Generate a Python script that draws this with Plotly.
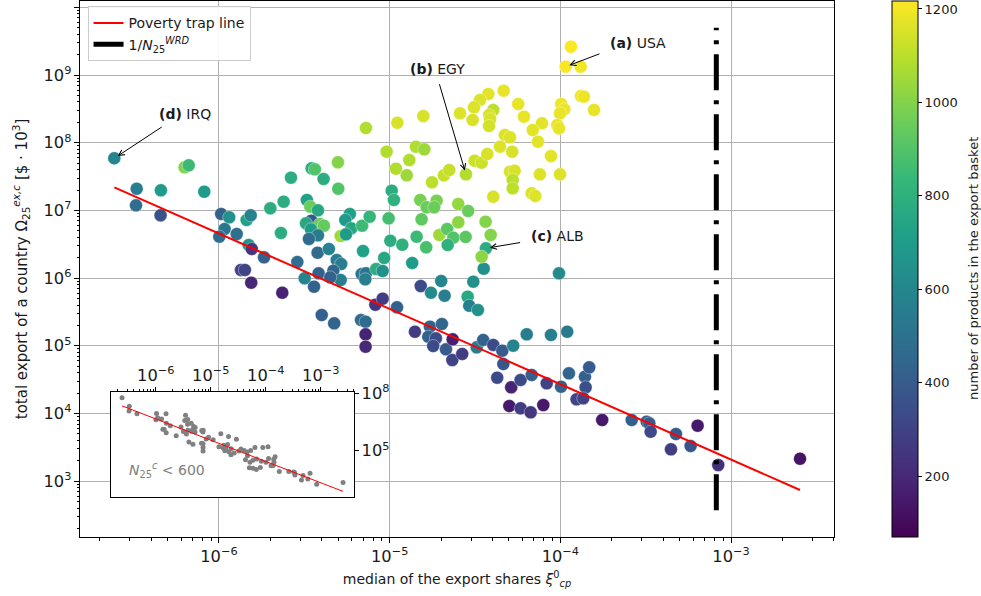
import numpy as np
import plotly.graph_objects as go

# ---------------- data (log10 of values) ----------------
countries = ["IRQ", "USA", "EGY", "ALB"]  # first four entries are the labelled countries

log10_xi = [
    -6.613, -3.969, -4.553, -4.436,
    -6.482, -6.340, -6.086, -6.486, -6.342, -6.201, -6.177, -5.987, -5.940, -5.838,
    -5.814, -5.967, -5.998, -5.896, -5.826, -5.808, -5.871, -5.848, -5.811,
    -5.303, -5.457, -5.438, -5.578, -5.387, -5.301, -5.699, -5.621, -5.485, -5.465,
    -5.420, -5.459, -5.490, -5.408, -5.385, -5.461, -5.420, -5.473, -5.637, -5.233,
    -5.260, -5.225, -5.161, -5.117, -5.287, -5.256, -5.422, -5.356, -5.541, -5.736,
    -5.310, -5.284, -5.156, -5.032, -5.006, -4.996, -4.926, -4.868, -4.988, -4.975,
    -5.629, -5.498, -5.443, -5.416, -5.330, -5.287, -5.348, -5.164, -5.139, -5.143,
    -5.079, -5.041, -5.084, -5.041, -4.957, -5.398, -5.168, -4.818, -4.758, -4.698,
    -4.678, -4.543, -4.534, -4.483, -4.510, -4.449, -4.461,
    -4.842, -4.786, -4.709, -4.663, -4.627, -4.660, -4.555, -4.813, -4.598, -4.438,
    -4.821, -4.783, -4.725, -4.739, -4.598, -4.540, -4.963, -4.900, -4.885, -4.752,
    -4.682, -4.651, -5.018, -4.502, -4.461,
    -5.325, -5.141, -5.141, -5.141, -4.852, -4.764, -4.774, -4.729, -4.694, -4.745,
    -4.670, -4.631, -4.633, -4.575, -4.490, -4.452, -4.393, -4.340, -4.276, -4.197,
    -4.055, -3.960, -4.334, -4.370, -4.288, -4.233, -4.168, -4.080, -3.996, -3.950,
    -3.856, -3.831, -3.852, -3.905, -3.866, -4.299, -4.233, -4.174, -4.100, -3.755,
    -3.582, -3.494, -3.479, -3.471, -3.323, -3.352, -3.237, -3.196, -3.075, -2.596,
    -4.008, -4.408,
    -3.938, -3.881, -3.879, -3.862, -3.803, -3.995, -3.977, -4.002, -4.018, -4.008,
    -4.055, -4.002, -4.120, -4.168, -4.147, -4.131, -4.108, -4.162, -4.213, -4.247,
    -4.332, -4.422, -4.471, -4.506, -4.588, -4.514, -4.393, -4.417, -4.412, -4.418,
    -4.325, -4.295, -4.354, -4.282, -4.428, -4.295, -4.268, -4.279, -4.279, -4.393,
    -4.803, -4.955, -5.139, -4.846, -4.797,
]

log10_export = [
    7.770, 9.123, 7.533, 6.440,
    7.320, 7.297, 7.276, 7.075, 6.928, 7.637, 7.666, 6.947, 6.898, 6.858,
    6.928, 6.725, 6.612, 6.651, 6.489, 6.430, 6.120, 6.120, 5.932,
    7.710, 7.622, 7.607, 7.483, 7.464, 7.320, 7.031, 7.129, 7.154, 7.055,
    7.001, 6.848, 6.809, 6.799, 6.774, 6.721, 6.632, 6.578, 6.666, 6.947,
    6.858, 6.736, 6.774, 6.907, 6.622, 6.647, 6.375, 6.430, 6.238, 6.307,
    6.267, 6.208, 6.400, 6.297, 6.883, 6.552, 6.493, 6.223, 7.291, 7.154,
    5.784, 5.997, 5.873, 6.071, 6.109, 5.972, 6.012, 6.060, 6.071, 5.982,
    6.134, 6.105, 5.607, 5.696, 5.569, 5.455, 5.381, 5.883, 5.784, 5.957,
    5.740, 5.725, 5.592, 5.529, 5.947, 6.139, 6.316,
    6.612, 6.455, 6.637, 6.725, 6.597, 6.489, 6.607, 6.868, 6.824, 6.833,
    7.154, 7.046, 7.143, 7.046, 7.095, 6.991, 7.616, 7.518, 7.744, 7.415,
    7.518, 7.597, 7.867, 7.734, 7.705,
    5.332, 5.356, 5.170, 4.987, 5.208, 5.282, 5.134, 5.111, 5.322, 4.997,
    4.948, 5.096, 4.790, 4.879, 4.978, 5.086, 5.012, 4.928, 5.002, 5.170,
    5.160, 5.208, 4.731, 4.529, 4.387, 4.495, 4.569, 4.446, 4.396, 4.594,
    4.544, 4.682, 4.387, 4.210, 4.224, 4.111, 4.077, 4.018, 4.125, 3.904,
    3.904, 3.879, 3.855, 3.731, 3.697, 3.471, 3.520, 3.820, 3.239, 3.332,
    6.071, 6.637,
    9.418, 9.123, 8.690, 8.680, 8.483, 8.572, 8.493, 8.434, 8.261, 8.213,
    7.803, 7.533, 7.533, 7.253, 7.213, 8.015, 8.287, 8.188, 8.384, 8.572,
    8.768, 8.719, 8.631, 8.523, 8.434, 8.335, 8.483, 8.409, 8.346, 8.247,
    8.114, 8.080, 7.941, 7.867, 7.833, 7.572, 7.586, 7.449, 7.326, 7.202,
    8.394, 8.295, 8.217, 7.941, 7.902,
]

n_products = [
    590, 1210, 1080, 780,
    560, 690, 700, 480, 360, 1000, 850, 430, 650, 720,
    580, 520, 480, 490, 660, 250, 300, 300, 190,
    1000, 780, 900, 780, 780, 900, 780, 780, 720, 950,
    760, 380, 760, 950, 940, 700, 550, 470, 780, 720,
    700, 760, 850, 830, 1050, 700, 470, 580, 480, 430,
    560, 560, 720, 760, 870, 780, 800, 700, 780, 800,
    180, 590, 430, 430, 450, 560, 430, 520, 520, 560,
    780, 650, 250, 280, 420, 420, 470, 330, 620, 600,
    560, 760, 570, 650, 650, 650, 1020,
    850, 880, 1050, 920, 900, 800, 920, 930, 1020, 1000,
    980, 950, 980, 950, 1030, 950, 1080, 1050, 1080, 1100,
    1120, 1120, 1080, 1130, 1130,
    440, 470, 180, 200, 280, 430, 430, 330, 450, 330,
    400, 170, 300, 280, 540, 430, 330, 400, 580, 560,
    570, 540, 380, 330, 180, 330, 420, 300, 430, 450,
    420, 400, 350, 300, 300, 150, 280, 250, 150, 150,
    420, 400, 400, 330, 400, 280, 380, 150, 230, 130,
    620, 1000,
    1215, 1200, 1190, 1190, 1180, 1190, 1190, 1180, 1180, 1180,
    1170, 1160, 1160, 1160, 1160, 1170, 1170, 1170, 1180, 1180,
    1180, 1170, 1160, 1160, 1160, 1150, 1100, 1150, 1150, 1140,
    1160, 1160, 1160, 1150, 1150, 1150, 1150, 1100, 1100, 1150,
    1150, 1150, 1080, 1080, 1050,
]

# poverty trap fit: log10(y) = a + b*log10(x)
fit_intercept = -0.019
fit_slope = -1.1128
n_wrd = 1220              # number of products in the world basket
inset_threshold = 600     # inset shows countries with N < 600

# ---------------- derived ----------------
lx = np.array(log10_xi)
ly = np.array(log10_export)
n = np.array(n_products)
xi = 10 ** lx
exp_ = 10 ** ly

xr = [-6.814, -2.397]
yr = [2.176, 10.093]
yr_in = [2.56, 8.084]

line_lx = np.array([lx.min(), lx.max()])
line_x = 10 ** line_lx
line_y = 10 ** (fit_intercept + fit_slope * line_lx)

vy0 = 10 ** (yr[0] + 0.05 * (yr[1] - yr[0]))
vy1 = 10 ** (yr[0] + 0.95 * (yr[1] - yr[0]))

FONT = "DejaVu Sans"
TXT = "#1a1a1a"

fig = go.Figure()

fig.add_trace(go.Scatter(
    x=xi, y=exp_, mode="markers", showlegend=False,
    marker=dict(size=13, color=n, colorscale="Viridis", cmin=70, cmax=1217,
                line=dict(width=0.6, color="rgba(255,255,255,0.6)"),
                colorbar=dict(
                    x=(882 - 80) / 754, xanchor="left", xref="paper",
                    y=0.5, yanchor="middle", len=1.0, lenmode="fraction", ypad=0,
                    thickness=26, thicknessmode="pixels",
                    outlinecolor="black", outlinewidth=1,
                    tickvals=[200, 400, 600, 800, 1000, 1200],
                    ticks="outside", ticklen=4, tickcolor="black",
                    tickfont=dict(size=13, color=TXT, family=FONT),
                )),
    hoverinfo="skip",
))

fig.add_trace(go.Scatter(
    x=line_x, y=line_y, mode="lines", name="Poverty trap line",
    line=dict(color="red", width=2),
))

fig.add_trace(go.Scatter(
    x=[1 / n_wrd, 1 / n_wrd], y=[vy0, vy1], mode="lines",
    name="1/<i>N</i><sub>25</sub><sup><i>WRD</i></sup>",
    line=dict(color="black", width=5, dash="36px,10px,4px,10px"),
))

# inset: white panel, grey points, fit line
fig.add_trace(go.Scatter(
    x=10 ** np.array([xr[0], xr[1], xr[1], xr[0], xr[0]]),
    y=10 ** np.array([yr_in[0], yr_in[0], yr_in[1], yr_in[1], yr_in[0]]),
    mode="lines", fill="toself", fillcolor="white", line=dict(width=0),
    showlegend=False, hoverinfo="skip", xaxis="x2", yaxis="y2",
))
mask = n < inset_threshold
fig.add_trace(go.Scatter(
    x=xi[mask], y=exp_[mask], mode="markers", showlegend=False,
    marker=dict(size=5, color="grey"), xaxis="x2", yaxis="y2", hoverinfo="skip",
))
fig.add_trace(go.Scatter(
    x=line_x, y=line_y, mode="lines", showlegend=False,
    line=dict(color="red", width=1), xaxis="x2", yaxis="y2",
))

axis_common = dict(
    type="log", dtick=1, exponentformat="power", showexponent="all",
    showline=True, linecolor="black", linewidth=1, mirror=True,
    ticks="outside", ticklen=5, tickcolor="black", automargin=False,
    tickfont=dict(size=13, color=TXT, family=FONT),
    showgrid=True, gridcolor="#b0b0b0", gridwidth=1, zeroline=False,
    minor=dict(ticks="outside", ticklen=2.5, tickcolor="black", dtick="D1", showgrid=False),
)

fig.update_layout(
    width=981, height=596,
    margin=dict(l=80, r=147, t=1, b=59, autoexpand=False),
    paper_bgcolor="white", plot_bgcolor="white",
    font=dict(family=FONT, color=TXT, size=13),
    xaxis=dict(axis_common, range=xr,
               title=dict(text="median of the export shares <i>ξ</i><sup>0</sup><sub><i>cp</i></sub>",
                          font=dict(size=14), standoff=9)),
    yaxis=dict(axis_common, range=yr,
               title=dict(text="total export of a country Ω<sub>25</sub><sup><i>ex,c</i></sup> [$ · 10<sup>3</sup>]",
                          font=dict(size=15), standoff=12)),
    xaxis2=dict(type="log", range=xr, domain=[(111 - 80) / 754, (354 - 80) / 754], anchor="y2",
                side="top", dtick=1, exponentformat="power", showexponent="all", automargin=False,
                showline=True, linecolor="black", linewidth=1, mirror=True,
                ticks="outside", ticklen=4, tickcolor="black", showgrid=False, zeroline=False,
                tickfont=dict(size=13, color=TXT, family=FONT),
                minor=dict(ticks="outside", ticklen=2, tickcolor="black", dtick="D1", showgrid=False)),
    yaxis2=dict(type="log", range=yr_in, domain=[(537 - 497.3) / 536, (537 - 391.7) / 536], anchor="x2",
                side="right", tick0=2, dtick=3, exponentformat="power", showexponent="all", automargin=False,
                showline=True, linecolor="black", linewidth=1, mirror=True,
                ticks="outside", ticklen=4, tickcolor="black", showgrid=False, zeroline=False,
                tickfont=dict(size=13, color=TXT, family=FONT)),
    legend=dict(x=0.01, y=0.99, xanchor="left", yanchor="top",
                bgcolor="rgba(255,255,255,0.9)", bordercolor="#cccccc", borderwidth=1,
                font=dict(size=14, color=TXT, family=FONT), tracegroupgap=2),
)

# labels with arrows
labels = [
    ("(a)", "USA", -3.723, 9.477, -3.762, 9.321),
    ("(b)", "EGY", -4.895, 9.084, -4.711, 8.886),
    ("(c)", "ALB", -4.184, 6.622, -4.227, 6.529),
    ("(d)", "IRQ", -6.365, 8.419, -6.326, 8.247),
]
for tag, code, tx, ty, ax_, ay_ in labels:
    i = countries.index(code)
    fig.add_annotation(x=tx, y=ty, xref="x", yref="y", text=f"<b>{tag}</b> {code}",
                       showarrow=False, xanchor="left", yanchor="middle",
                       font=dict(size=14, color=TXT, family=FONT))
    fig.add_annotation(x=lx[i], y=ly[i], xref="x", yref="y", ax=ax_, ay=ay_,
                       axref="x", ayref="y", text="", showarrow=True,
                       arrowhead=5, arrowsize=1.1, arrowwidth=1, arrowcolor="black", standoff=4)

fig.add_annotation(x=(126.7 - 80) / 754, y=(537 - 470) / 536, xref="paper", yref="paper",
                   text="<i>N</i><sub>25</sub><sup><i>c</i></sup> &lt; 600", showarrow=False,
                   xanchor="left", yanchor="middle", font=dict(size=14, color="grey", family=FONT))

fig.add_annotation(x=(973 - 80) / 754, y=0.5, xref="paper", yref="paper",
                   text="number of products in the export basket", textangle=-90,
                   showarrow=False, xanchor="center", yanchor="middle",
                   font=dict(size=13, color=TXT, family=FONT))

fig.write_html("out.html")
